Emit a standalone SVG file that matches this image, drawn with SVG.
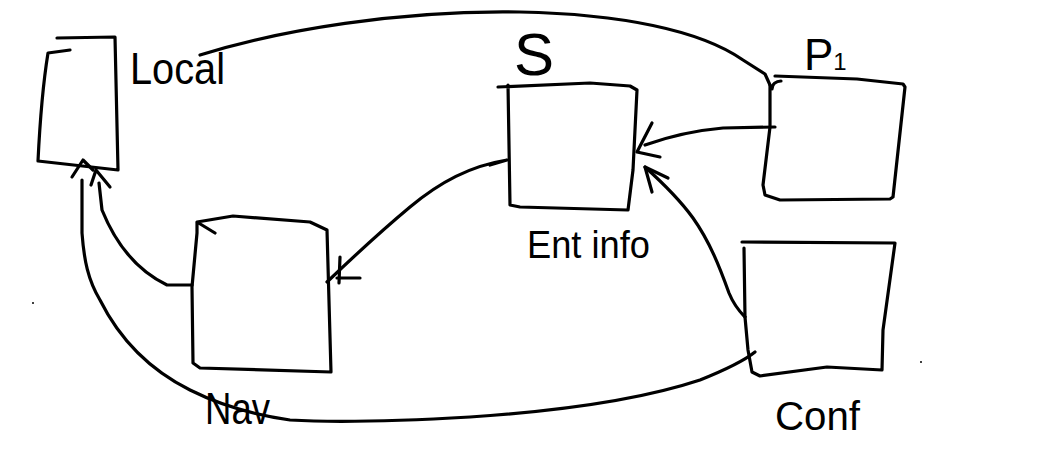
<svg xmlns="http://www.w3.org/2000/svg" width="1041" height="450" viewBox="0 0 1041 450">
  <style>
    .ink { fill: none; stroke: #000; stroke-width: 3.2; stroke-linecap: round; stroke-linejoin: round; }
    .lbl { font-family: "Liberation Sans", "DejaVu Sans", sans-serif; fill: #000; }
    .dot { fill: #000; }
  </style>
  <rect width="1041" height="450" fill="#fff"/>

  <!-- connectors -->
  <g id="connectors" class="ink">
    <!-- P1 over the top to Local -->
    <path d="M200,55 C280,30 400,10 520,12 C620,14 700,30 743,60 L765,74 L770,85"/>
    <path d="M772,89 C772,84 776,81 781,81"/>
    <!-- Nav to Local -->
    <path d="M192,285 L167,285 C140,272 117,247 102,210 L99,183"/>
    <path d="M91,185 L96,170 L110,187"/>
    <!-- Conf around the bottom to Local -->
    <path d="M755,352 C745,360 725,370 700,380 C640,400 560,411 470,417 C400,421 340,423 290,420 C255,415 220,405 190,390 C150,370 120,340 100,300 C88,280 84,260 82,233 L82,180"/>
    <path d="M72,177 L83,160 L93,170"/>
    <!-- S to Nav -->
    <path d="M490,165 L507,160 C470,166 440,182 410,207 C380,232 350,260 327,282"/>
    <path d="M340,257 L339,283 M337,278 L360,278"/>
    <!-- P1 to S -->
    <path d="M775,127 L723,128 C700,130 673,135 645,145"/>
    <path d="M652,123 L637,152 L660,157"/>
    <!-- Conf to S -->
    <path d="M745,317 C738,310 733,303 729,293 C720,268 710,242 693,218 C680,200 665,185 645,167"/>
    <path d="M652,192 L645,167 L668,178"/>
  </g>

  <!-- Local -->
  <g id="local">
    <path class="ink" d="M57,38 L115,37 L118,170 L38,161 C40,120 42,90 48,53 L70,50"/>
    <text class="lbl" x="130" y="84" font-size="44" textLength="95" lengthAdjust="spacingAndGlyphs">Local</text>
  </g>

  <!-- S -->
  <g id="s">
    <path class="ink" d="M498,87 L590,83 L630,86 L637,90 L633,170 L628,210 L520,207 L510,205 L508,85"/>
    <text class="lbl" x="514" y="75" font-size="60">S</text>
    <text class="lbl" x="527" y="258" font-size="38" textLength="123" lengthAdjust="spacingAndGlyphs">Ent info</text>
  </g>

  <!-- P1 -->
  <g id="p1">
    <path class="ink" d="M775,76 L857,79 L903,84 L905,87 L893,197 L890,199 L780,200 L765,195 L763,185 L770,127 L770,85"/>
    <text class="lbl" x="804" y="70" font-size="44">P<tspan font-size="24">1</tspan></text>
  </g>

  <!-- Nav -->
  <g id="nav">
    <path class="ink" d="M215,233 L197,222 L233,216 L310,222 L327,230 L331,372 L200,368 L193,363 L192,287 L197,233 L197,222"/>
    <text class="lbl" x="205" y="424" font-size="44" textLength="65" lengthAdjust="spacingAndGlyphs">Nav</text>
  </g>

  <!-- Conf -->
  <g id="conf">
    <path class="ink" d="M742,242 L895,243 L883,330 L882,370 L827,367 L760,376 L752,372 L748,350 L745,317 L744,248"/>
    <text class="lbl" x="775" y="430" font-size="40" textLength="85" lengthAdjust="spacingAndGlyphs">Conf</text>
  </g>

  <circle class="dot" cx="33" cy="303" r="1"/>
  <circle class="dot" cx="921" cy="362" r="1"/>
</svg>
